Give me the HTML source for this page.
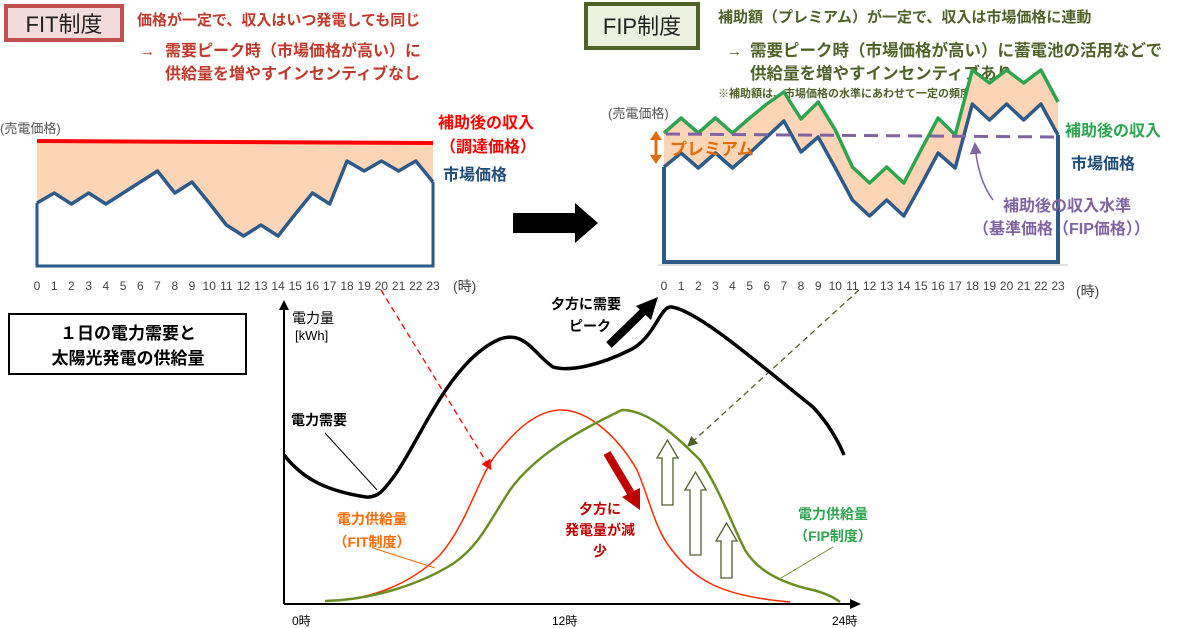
<!DOCTYPE html>
<html><head><meta charset="utf-8"><style>
html,body{margin:0;padding:0;background:#fff;}
svg{display:block;font-family:"Liberation Sans","Noto Sans CJK JP",sans-serif;}
.b{font-weight:bold;}
</style></head><body>
<svg width="1200" height="628" viewBox="0 0 1200 628" xmlns="http://www.w3.org/2000/svg">
<defs>
<marker id="ar" markerWidth="8" markerHeight="8" refX="6" refY="4" orient="auto"><path d="M0,0 L8,4 L0,8 z" fill="#ff0000"/></marker>
<marker id="ag" markerWidth="8" markerHeight="8" refX="6" refY="4" orient="auto"><path d="M0,0 L8,4 L0,8 z" fill="#4f6228"/></marker>
<marker id="ap" markerWidth="8" markerHeight="8" refX="6" refY="4" orient="auto"><path d="M0,0 L8,4 L0,8 z" fill="#8064a2"/></marker>
</defs>

<!-- FIT header -->
<rect x="6" y="6" width="116" height="34" fill="#f2dcdb" stroke="#c0504d" stroke-width="4"/>
<text x="64" y="32" font-size="22" text-anchor="middle" fill="#222">FIT制度</text>
<g class="b" fill="#c0392b" font-size="15">
<text x="137" y="25">価格が一定で、収入はいつ発電しても同じ</text>
<text x="140" y="56">→</text>
<text x="165" y="56" font-size="16">需要ピーク時（市場価格が高い）に</text>
<text x="165" y="79" font-size="16">供給量を増やすインセンティブなし</text>
</g>

<!-- FIP header -->
<rect x="586" y="4" width="112" height="44" fill="#ebf1de" stroke="#4f6228" stroke-width="4"/>
<text x="642" y="34" font-size="22" text-anchor="middle" fill="#222">FIP制度</text>
<g class="b" fill="#4f6228" font-size="15">
<text x="718" y="22">補助額（プレミアム）が一定で、収入は市場価格に連動</text>
<text x="727" y="56">→</text>
<text x="750" y="56" font-size="16.5">需要ピーク時（市場価格が高い）に蓄電池の活用などで</text>
<text x="750" y="79" font-size="16.5">供給量を増やすインセンティブあり</text>
<text x="718" y="97" font-size="11">※補助額は、市場価格の水準にあわせて一定の頻度で更新</text>
</g>

<!-- Left chart -->
<text x="0" y="133" font-size="13" fill="#555">(売電価格)</text>
<polygon fill="#fbd5b5" points="37,141 433,143 433,182 415.8,161 398.6,171 381.4,161 364.2,171 347,161 329.7,204 312.5,193 295.3,214 278.1,236 260.9,225 243.6,236 226.4,225 209.2,203 192,182 174.8,193 157.5,171 140.3,182 123.1,193 105.9,204 88.7,193 71.4,204 54.2,193 37,203"/>
<line x1="37" y1="141" x2="433" y2="143" stroke="#ff0000" stroke-width="4"/>
<polyline fill="none" stroke="#2e5a8a" stroke-width="3.5" stroke-linejoin="round" points="37,203 54.2,193 71.4,204 88.7,193 105.9,204 123.1,193 140.3,182 157.5,171 174.8,193 192,182 209.2,203 226.4,225 243.6,236 260.9,225 278.1,236 295.3,214 312.5,193 329.7,204 347,161 364.2,171 381.4,161 398.6,171 415.8,161 433,182"/>
<polyline fill="none" stroke="#2e5a8a" stroke-width="3" points="37,203 37,266 433,266 433,182"/>
<g font-size="12" fill="#444" text-anchor="middle">
<text x="37" y="290">0</text><text x="54.2" y="290">1</text><text x="71.4" y="290">2</text><text x="88.7" y="290">3</text><text x="105.9" y="290">4</text><text x="123.1" y="290">5</text><text x="140.3" y="290">6</text><text x="157.5" y="290">7</text><text x="174.8" y="290">8</text><text x="192" y="290">9</text><text x="209.2" y="290">10</text><text x="226.4" y="290">11</text><text x="243.6" y="290">12</text><text x="260.9" y="290">13</text><text x="278.1" y="290">14</text><text x="295.3" y="290">15</text><text x="312.5" y="290">16</text><text x="329.7" y="290">17</text><text x="347" y="290">18</text><text x="364.2" y="290">19</text><text x="381.4" y="290">20</text><text x="398.6" y="290">21</text><text x="415.8" y="290">22</text><text x="433" y="290">23</text>
</g>
<text x="453" y="291" font-size="14" fill="#444">(時)</text>
<g class="b" font-size="16">
<text x="438" y="128" fill="#ff0000">補助後の収入</text>
<text x="440" y="152" fill="#ff0000">（調達価格）</text>
<text x="443" y="180" fill="#1f4e79">市場価格</text>
</g>

<!-- big arrow -->
<polygon points="513,213 575,213 575,203 598,223 575,243 575,233 513,233" fill="#000"/>

<!-- Right chart -->
<text x="608" y="118" font-size="13" fill="#555">(売電価格)</text>
<polygon fill="#fbd5b5" points="664,133 681.1,118 698.3,133 715.4,118 732.5,133 749.7,118 766.8,104 783.9,92 801,119 818.2,102 835.3,130 852.4,167 869.6,183 886.7,167 903.8,183 921,150 938.1,118 955.2,135 972.3,70 989.5,83 1006.6,70 1023.7,83 1040.9,70 1058,102 1058,135 1040.9,104 1023.7,120 1006.6,104 989.5,120 972.3,104 955.2,168 938.1,153 921,185 903.8,216 886.7,200 869.6,216 852.4,200 835.3,168 818.2,137 801,152 783.9,121 766.8,137 749.7,153 732.5,168 715.4,153 698.3,168 681.1,153 664,167"/>
<polyline fill="none" stroke="#2ea44f" stroke-width="3.5" stroke-linejoin="round" points="664,133 681.1,118 698.3,133 715.4,118 732.5,133 749.7,118 766.8,104 783.9,92 801,119 818.2,102 835.3,130 852.4,167 869.6,183 886.7,167 903.8,183 921,150 938.1,118 955.2,135 972.3,70 989.5,83 1006.6,70 1023.7,83 1040.9,70 1058,102"/>
<polyline fill="none" stroke="#2e5a8a" stroke-width="3.5" stroke-linejoin="round" points="664,167 681.1,153 698.3,168 715.4,153 732.5,168 749.7,153 766.8,137 783.9,121 801,152 818.2,137 835.3,168 852.4,200 869.6,216 886.7,200 903.8,216 921,185 938.1,153 955.2,168 972.3,104 989.5,120 1006.6,104 1023.7,120 1040.9,104 1058,135"/>
<polyline fill="none" stroke="#2e5a8a" stroke-width="4" points="664,167 664,262 1058,262 1058,135"/>
<line x1="658" y1="265" x2="1068" y2="265" stroke="#bbb" stroke-width="1"/>
<line x1="666" y1="134" x2="1058" y2="137" stroke="#8064a2" stroke-width="3" stroke-dasharray="14,8"/>
<g font-size="12" fill="#444" text-anchor="middle">
<text x="664" y="290">0</text><text x="681.1" y="290">1</text><text x="698.3" y="290">2</text><text x="715.4" y="290">3</text><text x="732.5" y="290">4</text><text x="749.7" y="290">5</text><text x="766.8" y="290">6</text><text x="783.9" y="290">7</text><text x="801" y="290">8</text><text x="818.2" y="290">9</text><text x="835.3" y="290">10</text><text x="852.4" y="290">11</text><text x="869.6" y="290">12</text><text x="886.7" y="290">13</text><text x="903.8" y="290">14</text><text x="921" y="290">15</text><text x="938.1" y="290">16</text><text x="955.2" y="290">17</text><text x="972.3" y="290">18</text><text x="989.5" y="290">19</text><text x="1006.6" y="290">20</text><text x="1023.7" y="290">21</text><text x="1040.9" y="290">22</text><text x="1058" y="290">23</text>
</g>
<text x="1076" y="296" font-size="14" fill="#444">(時)</text>
<line x1="656" y1="138" x2="656" y2="157" stroke="#e36c09" stroke-width="3"/>
<polygon points="650,140 662,140 656,131" fill="#e36c09"/>
<polygon points="650,155 662,155 656,164" fill="#e36c09"/>
<text x="670" y="155" class="b" font-size="17" fill="#e36c09">プレミアム</text>
<g class="b" font-size="16">
<text x="1065" y="136" fill="#2ea44f">補助後の収入</text>
<text x="1071" y="169" fill="#1f4e79">市場価格</text>
<text x="1003" y="211" fill="#8064a2">補助後の収入水準</text>
<text x="973" y="234" fill="#8064a2">（基準価格（FIP価格））</text>
</g>
<path d="M993,200 Q978,180 975,145" fill="none" stroke="#8064a2" stroke-width="1.5" marker-end="url(#ap)"/>

<!-- Bottom box -->
<rect x="9" y="314" width="237" height="60" fill="#fff" stroke="#000" stroke-width="2"/>
<text x="128" y="339" class="b" font-size="17" text-anchor="middle">１日の電力需要と</text>
<text x="128" y="364" class="b" font-size="17" text-anchor="middle">太陽光発電の供給量</text>

<line x1="284" y1="604" x2="852" y2="604" stroke="#000" stroke-width="2"/>
<polygon points="850,599 861,604 850,609" fill="#000"/>
<line x1="284" y1="604" x2="284" y2="308" stroke="#000" stroke-width="2"/>
<polygon points="279,310 284,300 289,310" fill="#000"/>
<g font-size="12" fill="#000">
<text x="292" y="625">0時</text><text x="552" y="625">12時</text><text x="832" y="625">24時</text>
</g>
<text x="292" y="323" font-size="14">電力量</text>
<text x="295" y="340" font-size="13">[kWh]</text>

<line x1="381" y1="290" x2="490" y2="468" stroke="#ff0000" stroke-width="1.3" stroke-dasharray="6,4" marker-end="url(#ar)"/>
<line x1="859" y1="290" x2="689" y2="445" stroke="#4f6228" stroke-width="1.3" stroke-dasharray="6,4" marker-end="url(#ag)"/>

<path d="M284,455 C300,475 320,490 366,497 C378,498 384,490 395,475 C420,440 450,360 500,339 C525,330 535,355 553,367 C570,372 600,365 630,350 C655,338 660,305 672,307 C700,312 760,365 813,407 C830,425 840,445 844,455" fill="none" stroke="#000" stroke-width="3.5"/>
<path d="M325,601 C370,600 410,585 440,555 C470,520 480,470 500,450 C520,425 540,410 561,410 C590,410 620,440 637,470 C650,500 655,530 672,550 C695,580 720,596 790,602" fill="none" stroke="#ff2a00" stroke-width="1.5"/>
<path d="M325,601 C370,600 420,585 454,563 C480,545 490,520 510,490 C535,455 580,430 622,410 C650,410 680,440 700,460 C720,490 730,520 745,550 C760,575 790,585 813,590 C828,594 835,598 840,602" fill="none" stroke="#6b8e23" stroke-width="2.5"/>

<g fill="#fff" stroke="#4f6228" stroke-width="1.3">
<polygon points="662,505 662,458 657,458 667.5,440 678,458 673,458 673,505"/>
<polygon points="690,555 690,490 685,490 695.5,472 706,490 701,490 701,555"/>
<polygon points="721,578 721,541 716,541 726.5,523 737,541 732,541 732,578"/>
</g>
<line x1="607" y1="453" x2="632" y2="495" stroke="#c00000" stroke-width="8"/>
<polygon points="622,497 640,510 640,488" fill="#c00000"/>
<line x1="609" y1="345" x2="645" y2="310" stroke="#000" stroke-width="8"/>
<polygon points="636,306 658,297 651,320" fill="#000"/>

<g class="b" font-size="14">
<text x="551" y="309">夕方に需要</text>
<text x="569" y="331">ピーク</text>
<text x="291" y="425">電力需要</text>
<text x="372" y="524" fill="#ff6a00" text-anchor="middle">電力供給量</text>
<text x="372" y="547" fill="#ff6a00" text-anchor="middle">（FIT制度）</text>
<text x="600" y="514" fill="#c00000" text-anchor="middle">夕方に</text>
<text x="600" y="535" fill="#c00000" text-anchor="middle">発電量が減</text>
<text x="600" y="556" fill="#c00000" text-anchor="middle">少</text>
<text x="833" y="519" fill="#2ea44f" text-anchor="middle">電力供給量</text>
<text x="833" y="541" fill="#2ea44f" text-anchor="middle">（FIP制度）</text>
</g>
<line x1="325" y1="433" x2="377" y2="490" stroke="#000" stroke-width="1"/>
<line x1="373" y1="548" x2="435" y2="568" stroke="#ff6a00" stroke-width="1"/>
<line x1="781" y1="578" x2="833" y2="547" stroke="#6b8e23" stroke-width="1"/>
</svg>
</body></html>
